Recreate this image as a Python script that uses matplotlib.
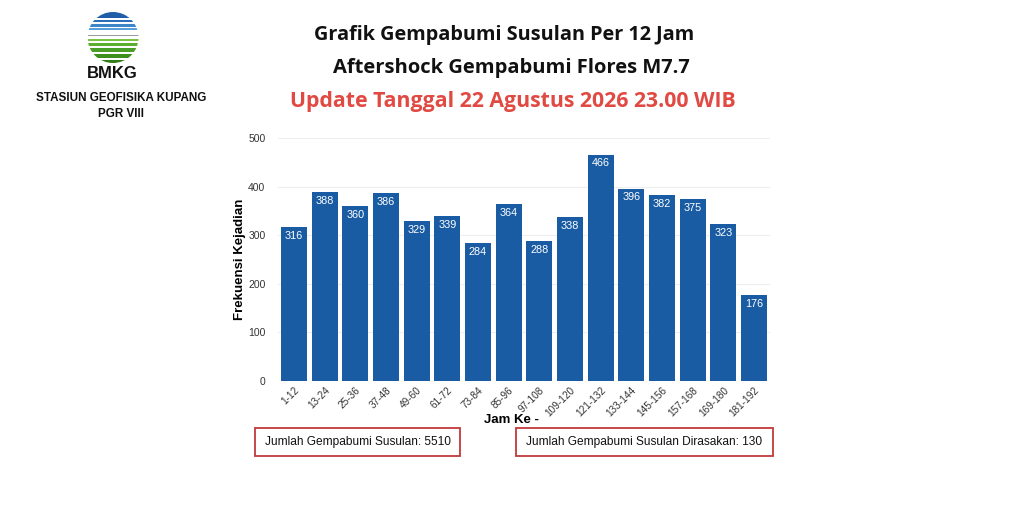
import matplotlib
matplotlib.use("Agg")
import matplotlib.pyplot as plt
from matplotlib.patches import Rectangle, Circle
import numpy as np

categories = ["1-12", "13-24", "25-36", "37-48", "49-60", "61-72", "73-84", "85-96",
              "97-108", "109-120", "121-132", "133-144", "145-156", "157-168",
              "169-180", "181-192"]
values = [316, 388, 360, 386, 329, 339, 284, 364, 288, 338, 466, 396, 382, 375, 323, 176]
yticks = [0, 100, 200, 300, 400, 500]

title1 = "Grafik Gempabumi Susulan Per 12 Jam"
title2 = "Aftershock Gempabumi Flores M7.7"
title3 = "Update Tanggal 22 Agustus 2026 23.00 WIB"
box1 = "Jumlah Gempabumi Susulan: 5510"
box2 = "Jumlah Gempabumi Susulan Dirasakan: 130"

W, H = 1024, 512
fig = plt.figure(figsize=(W / 100, H / 100), dpi=100)
fig.patch.set_facecolor("white")

def fx(px):
    return px / W

def fy(py):
    return 1 - py / H

# main axes
ax = fig.add_axes([fx(278), fy(381), fx(770) - fx(278), fy(138) - fy(381)])
x = np.arange(len(categories))
bar_color = "#1a5ca3"
ax.bar(x, values, width=0.85, color=bar_color, zorder=3)
for xi, v in zip(x, values):
    ax.text(xi, v - 8, str(v), ha="center", va="top", color="white",
            fontsize=7.8, family="Liberation Sans", zorder=4)
ax.set_xlim(-0.52, len(categories) - 0.48)
ax.set_ylim(0, 500)
ax.set_yticks(yticks)
ax.set_yticklabels([str(t) for t in yticks], fontsize=7.5, color="#333333",
                   family="Liberation Sans")
ax.set_xticks(x)
ax.set_xticklabels(categories, rotation=45, ha="right", rotation_mode="anchor",
                   fontsize=7.2, color="#333333", family="Liberation Sans")
ax.tick_params(axis="both", length=0, pad=3)
ax.tick_params(axis="y", pad=9)
ax.grid(axis="y", color="#eeeeee", linewidth=0.8, zorder=0)
for s in ax.spines.values():
    s.set_visible(False)
ax.set_ylabel("Frekuensi Kejadian", fontsize=9.5, fontweight="bold",
              family="Liberation Sans")
ax.yaxis.set_label_coords(-0.066, 0.5)
ax.set_xlabel("Jam Ke -", fontsize=9.5, fontweight="bold", family="Liberation Sans")
ax.xaxis.set_label_coords(0.475, -0.135)

# titles
fig.text(fx(504), fy(35), title1, ha="center", va="center", fontsize=14.3,
         fontweight="bold", family="Open Sans", color="#111111")
fig.text(fx(511), fy(68), title2, ha="center", va="center", fontsize=14.5,
         fontweight="bold", family="Open Sans", color="#111111")
fig.text(fx(513), fy(101), title3, ha="center", va="center", fontsize=15.3,
         fontweight="bold", family="Open Sans", color="#e04a43")

# boxes
for (x0, x1, txt) in [(255, 460, box1), (516, 773, box2)]:
    r = Rectangle((fx(x0), fy(456)), fx(x1) - fx(x0), fy(428) - fy(456),
                  transform=fig.transFigure, facecolor="white",
                  edgecolor="#c0393b", linewidth=1.3)
    fig.add_artist(r)
    fig.text(fx((x0 + x1) / 2), fy(442), txt, ha="center", va="center",
             fontsize=8.6, family="Liberation Sans", color="#111111")

# logo
lax = fig.add_axes([fx(87), fy(63), fx(139) - fx(87), fy(12) - fy(63)])
lax.set_xlim(-1, 1)
lax.set_ylim(-1, 1)
lax.set_aspect("equal")
lax.axis("off")
clip = Circle((0, 0), 1, transform=lax.transData)
stripes = [
    (0.78, 1.0, "#1f5ea8"), (0.60, 0.70, "#2a6fb8"), (0.43, 0.52, "#3d86c8"),
    (0.28, 0.36, "#5aa0d8"), (0.06, 0.11, "#9a9a9a"),
    (-0.14, -0.04, "#7dc242"), (-0.34, -0.22, "#5cae2e"), (-0.56, -0.42, "#4a9e25"),
    (-0.80, -0.64, "#3d8f1e"), (-1.0, -0.88, "#2f7d18"),
]
for y0, y1, c in stripes:
    p = Rectangle((-1, y0), 2, y1 - y0, facecolor=c, edgecolor="none")
    p.set_clip_path(clip)
    lax.add_patch(p)
fig.text(fx(112), fy(74), "BMKG", ha="center", va="center", fontsize=12,
         fontweight="bold", family="Liberation Sans", color="#111111")
fig.text(fx(121), fy(98), "STASIUN GEOFISIKA KUPANG", ha="center", va="center",
         fontsize=8.4, fontweight="bold", family="Liberation Sans", color="#111111")
fig.text(fx(121), fy(114), "PGR VIII", ha="center", va="center",
         fontsize=8.4, fontweight="bold", family="Liberation Sans", color="#111111")

fig.savefig("out.png", dpi=100, facecolor="white")
